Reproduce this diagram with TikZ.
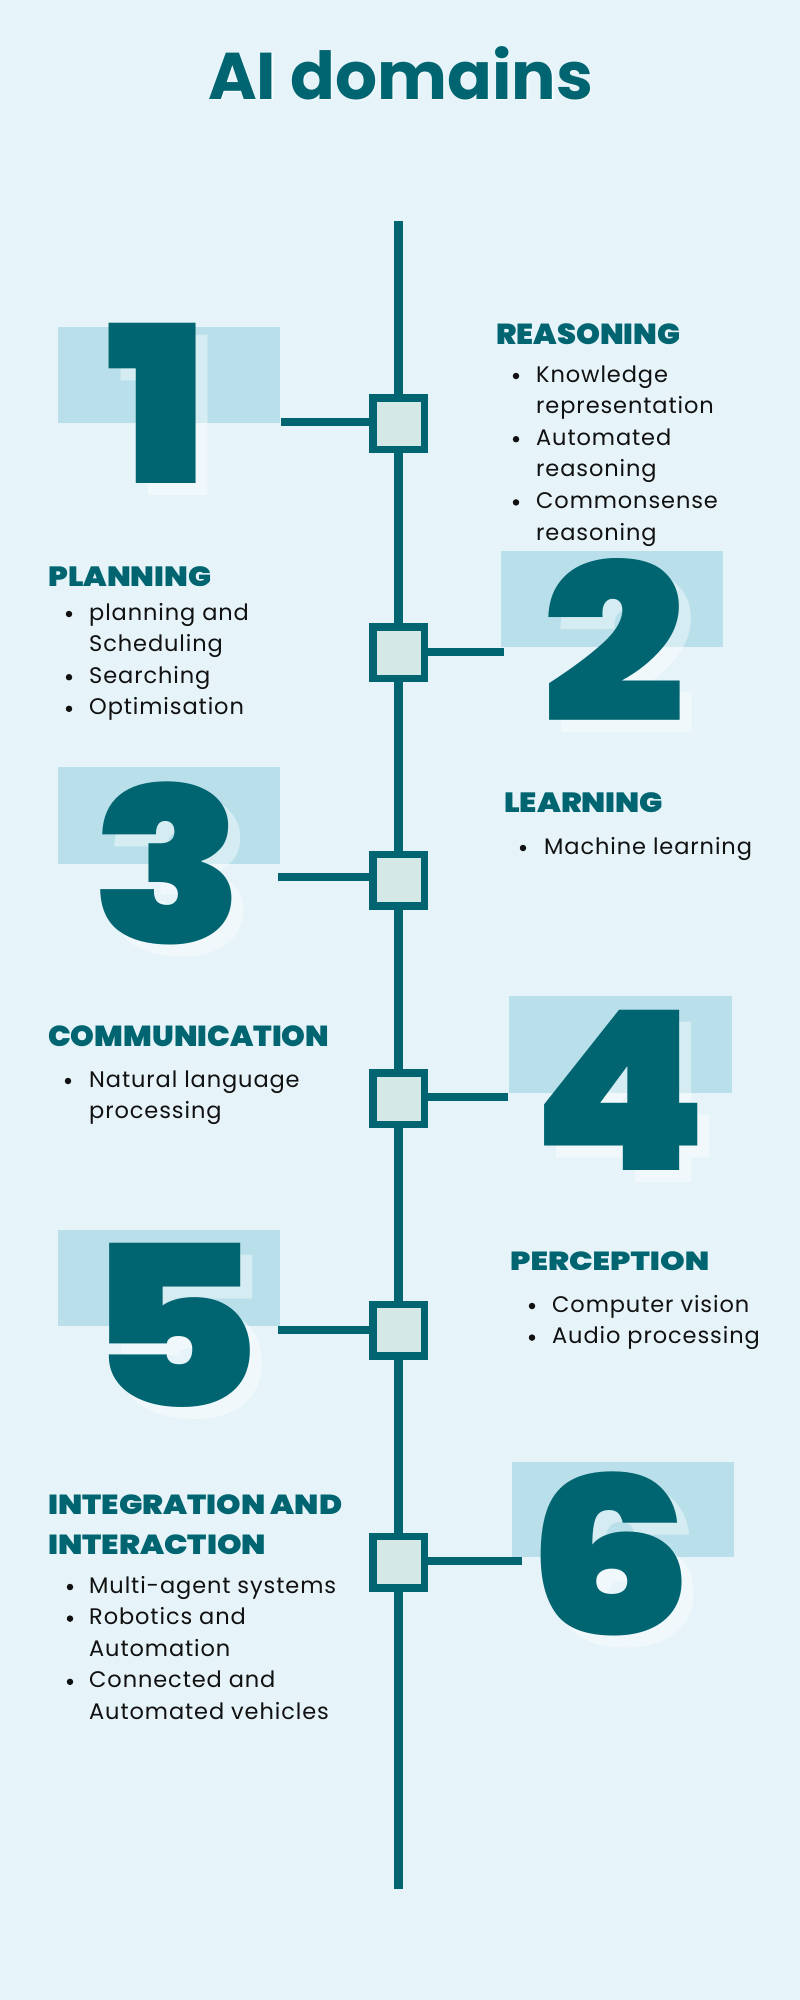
\documentclass[tikz,border=0pt]{standalone}
\usepackage{fontspec}
\setmainfont{Poppins}
\newfontfamily\bodyfont{Poppins}[LetterSpace=4]
\IfFontExistsTF{Poppins Black}
  {\newfontfamily\heavyfont{Poppins Black}}
  {\newfontfamily\heavyfont{Poppins}[FakeBold=3]}
\IfFontExistsTF{Poppins Bold}
  {\newfontfamily\titlefont{Poppins Bold}}
  {\newfontfamily\titlefont{Poppins}[FakeBold=2]}

\definecolor{bgblue}{HTML}{E6F4F9}
\definecolor{deepteal}{HTML}{006570}
\definecolor{panel}{HTML}{B9E0EA}
\definecolor{hubfill}{HTML}{D4E8E8}
\definecolor{ink}{HTML}{111111}

\tikzset{
  body/.style={font=\bodyfont\fontsize{22.5}{27}\selectfont, text=ink, inner sep=0pt, anchor=base west},
  bul/.style={circle, fill=ink, minimum size=6.5pt, inner sep=0pt},
  heading/.style={text=deepteal, inner sep=0pt, anchor=north west},
  panelrect/.style={fill=panel, draw=none},
  hub/.style={draw=deepteal, fill=hubfill, line width=7.5pt, minimum size=51.5pt, inner sep=0pt, outer sep=0pt},
  link/.style={draw=deepteal, line width=8pt},
  spine/.style={draw=deepteal, line width=8.5pt},
}

% big numeral with a pale offset shadow: name, glyph, centre x, bottom y, height, horizontal stretch
\newcommand\bignumeral[6]{%
  \node[inner sep=0pt, anchor=south, text=white, text opacity=0.4] (#1s) at (#3+12,#4+12)
    {\scalebox{#6}[1]{\resizebox*{!}{#5pt}{\heavyfont #2}}};
  \node[inner sep=0pt, anchor=south, text=deepteal] (#1) at (#3,#4)
    {\scalebox{#6}[1]{\resizebox*{!}{#5pt}{\heavyfont #2}}};}

% section heading squeezed to a fixed box: name, x, y, width, height, text
\newcommand\sectionhead[6]{%
  \node[heading] (#1) at (#2,#3) {\resizebox*{#4pt}{#5pt}{\heavyfont #6}};}

\begin{document}
\begin{tikzpicture}[x=1pt,y=-1pt]
  \path[use as bounding box, fill=bgblue] (0,0) rectangle (800,2000);

  % title
  \node[inner sep=0pt, anchor=base west, text=white, text opacity=0.7] (titles) at (209.5,100.5)
    {\resizebox{385pt}{!}{\titlefont AI domains}};
  \node[inner sep=0pt, anchor=base west, text=deepteal] (title) at (208,99)
    {\resizebox{385pt}{!}{\titlefont AI domains}};

  % timeline spine
  \coordinate (top) at (398.5,221);
  \coordinate (bottom) at (398.5,1889);
  \draw[spine] (top) -- (bottom);

  % pale panels behind the numerals
  \path[panelrect] (58,327) rectangle (280,423);
  \path[panelrect] (501,551) rectangle (723,647);
  \path[panelrect] (58,767) rectangle (280,864);
  \path[panelrect] (509,996) rectangle (732,1093);
  \path[panelrect] (58,1230) rectangle (280,1326);
  \path[panelrect] (512,1462) rectangle (734,1557);

  % numerals
  \bignumeral{n1}{1}{158}{484}{160}{1.17}
  \bignumeral{n2}{2}{614}{723}{164}{1.15}
  \bignumeral{n3}{3}{168}{945}{163}{1.15}
  \bignumeral{n4}{4}{620}{1171}{160}{1.13}
  \bignumeral{n5}{5}{173}{1408}{164}{1.19}
  \bignumeral{n6}{6}{611}{1636}{164}{1.2}

  % hubs on the spine
  \node[hub] (hub1) at (398.5,423.5) {};
  \node[hub] (hub2) at (398.5,652.5) {};
  \node[hub] (hub3) at (398.5,880) {};
  \node[hub] (hub4) at (398.5,1098.5) {};
  \node[hub] (hub5) at (398.5,1330) {};
  \node[hub] (hub6) at (398.5,1562) {};

  % connectors from hubs to panels
  \coordinate (e1) at (281,422);
  \coordinate (e2) at (504,652);
  \coordinate (e3) at (278,877);
  \coordinate (e4) at (508,1096.5);
  \coordinate (e5) at (278,1330);
  \coordinate (e6) at (522,1561);
  \draw[link] (e1) -- (e1 -| hub1.west);
  \draw[link] (hub2.east |- e2) -- (e2);
  \draw[link] (e3) -- (e3 -| hub3.west);
  \draw[link] (hub4.east |- e4) -- (e4);
  \draw[link] (e5) -- (e5 -| hub5.west);
  \draw[link] (hub6.east |- e6) -- (e6);

  % 1 reasoning
  \sectionhead{h1}{496}{323}{184}{21}{REASONING}
  \node[bul] (b1a) at (516,376) {};
  \node[body] (t1a) at (536,382) {Knowledge};
  \node[body] (t1b) at (536,413.6) {representation};
  \node[bul] (b1c) at (516,439.2) {};
  \node[body] (t1c) at (536,445.2) {Automated};
  \node[body] (t1d) at (536,476.8) {reasoning};
  \node[bul] (b1e) at (516,502.4) {};
  \node[body] (t1e) at (536,508.4) {Commonsense};
  \node[body] (t1f) at (536,540) {reasoning};

  % 2 planning
  \sectionhead{h2}{48}{566}{163}{20}{PLANNING}
  \node[bul] (b2a) at (69,614) {};
  \node[body] (t2a) at (89,620) {planning and};
  \node[body] (t2b) at (89,651.6) {Scheduling};
  \node[bul] (b2c) at (69,677.2) {};
  \node[body] (t2c) at (89,683.2) {Searching};
  \node[bul] (b2d) at (69,708.8) {};
  \node[body] (t2d) at (89,714.8) {Optimisation};

  % 3 learning
  \sectionhead{h3}{504}{792}{159}{20}{LEARNING}
  \node[bul] (b3a) at (523,848) {};
  \node[body] (t3a) at (544,854) {Machine learning};

  % 4 communication
  \sectionhead{h4}{48}{1025}{281}{21}{COMMUNICATION}
  \node[bul] (b4a) at (68,1081) {};
  \node[body] (t4a) at (89,1087) {Natural language};
  \node[body] (t4b) at (89,1118.6) {processing};

  % 5 perception
  \sectionhead{h5}{510}{1251}{199}{19}{PERCEPTION}
  \node[bul] (b5a) at (532,1306) {};
  \node[body] (t5a) at (552,1312) {Computer vision};
  \node[bul] (b5b) at (532,1337.6) {};
  \node[body] (t5b) at (552,1343.6) {Audio processing};

  % 6 integration and interaction
  \sectionhead{h6a}{48}{1494}{294}{20}{INTEGRATION AND}
  \sectionhead{h6b}{48}{1534}{218}{20}{INTERACTION}
  \node[bul] (b6a) at (70,1587) {};
  \node[body] (t6a) at (89,1593) {Multi-agent systems};
  \node[bul] (b6b) at (70,1618.6) {};
  \node[body] (t6b) at (89,1624.6) {Robotics and};
  \node[body] (t6c) at (89,1656.2) {Automation};
  \node[bul] (b6d) at (70,1681.8) {};
  \node[body] (t6d) at (89,1687.8) {Connected and};
  \node[body] (t6e) at (89,1719.4) {Automated vehicles};
\end{tikzpicture}
\end{document}
